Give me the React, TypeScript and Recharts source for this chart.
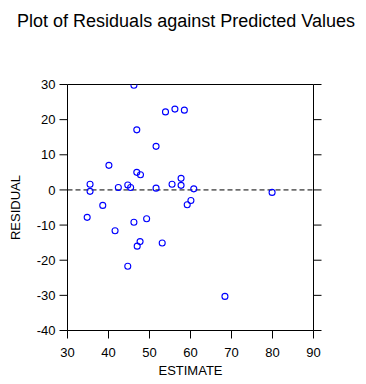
import React from 'react';
import { ScatterChart, Scatter, XAxis, YAxis, ReferenceLine } from 'recharts';

const estimate = [
  46.2, 53.9, 56.2, 58.5, 46.9, 51.6, 40.1, 46.9, 47.8, 57.7, 35.5, 55.5, 57.7, 44.7, 45.4, 42.4,
  51.6, 60.8, 35.5, 79.9, 38.6, 34.8, 60.1, 59.2, 46.2, 49.3, 41.6, 47.7, 47.0, 53.1, 44.7, 68.4,
];
const residual = [
  29.8, 22.2, 23.0, 22.7, 17.1, 12.4, 7.0, 5.0, 4.3, 3.3, 1.6, 1.6, 1.3, 1.4, 0.7, 0.7,
  0.5, 0.3, -0.4, -0.7, -4.4, -7.8, -3.0, -4.2, -9.2, -8.2, -11.6, -14.7, -16.0, -15.1, -21.7, -30.3,
];
const xTicks = [30, 40, 50, 60, 70, 80, 90];
const yTicks = [-40, -30, -20, -10, 0, 10, 20, 30];

const data = estimate.map((e, i) => ({ x: e, y: residual[i] }));

const FONT = '"Liberation Sans", Arial, sans-serif';
const tickStyle = { fill: '#000', fontSize: 13, fontFamily: FONT };

const Dot = (props: any) => {
  const { cx, cy } = props;
  if (cx == null || cy == null) return null;
  return <circle cx={cx} cy={cy} r={3} fill="none" stroke="#0000ff" strokeWidth={1.1} />;
};

export default function App() {
  return (
    <div style={{ position: 'absolute', left: 0, top: 0, width: 366, height: 384, background: '#fff' }}>
      <svg width={366} height={40} style={{ position: 'absolute', left: 0, top: 0 }}>
        <text x={186} y={26.5} textAnchor="middle" fontSize={18} fontFamily={FONT} fill="#000">
          Plot of Residuals against Predicted Values
        </text>
      </svg>
      <div style={{ position: 'absolute', left: 0, top: 0 }}>
        <ScatterChart
          width={366}
          height={384}
          margin={{ top: 64.5, left: 0, right: 32.5, bottom: 3.5 }}
        >
          <XAxis
            xAxisId="bottom"
            type="number"
            dataKey="x"
            domain={[30, 90]}
            ticks={xTicks}
            allowDataOverflow
            height={50}
            tickSize={8}
            tickMargin={9}
            stroke="#000"
            tick={tickStyle}
            label={{ value: 'ESTIMATE', position: 'insideBottom', offset: 5.5, style: { fill: '#000', fontSize: 13, fontFamily: FONT } }}
          />
          <XAxis
            xAxisId="top"
            orientation="top"
            type="number"
            domain={[30, 90]}
            ticks={xTicks}
            allowDataOverflow
            height={20}
            tickSize={8}
            stroke="#000"
            tickFormatter={() => ''}
          />
          <YAxis
            yAxisId="left"
            type="number"
            dataKey="y"
            domain={[-40, 30]}
            ticks={yTicks}
            allowDataOverflow
            width={67.5}
            tickSize={8}
            tickMargin={4}
            stroke="#000"
            tick={tickStyle}
            label={{ value: 'RESIDUAL', angle: -90, position: 'insideLeft', offset: 15, style: { textAnchor: 'middle', fill: '#000', fontSize: 13, fontFamily: FONT } }}
          />
          <YAxis
            yAxisId="right"
            orientation="right"
            type="number"
            domain={[-40, 30]}
            ticks={yTicks}
            allowDataOverflow
            width={20}
            tickSize={8}
            stroke="#000"
            tickFormatter={() => ''}
          />
          <ReferenceLine xAxisId="bottom" yAxisId="left" y={0} stroke="#000" strokeDasharray="5 3" />
          <Scatter
            xAxisId="bottom"
            yAxisId="left"
            data={data}
            shape={Dot}
            isAnimationActive={false}
          />
        </ScatterChart>
      </div>
    </div>
  );
}
